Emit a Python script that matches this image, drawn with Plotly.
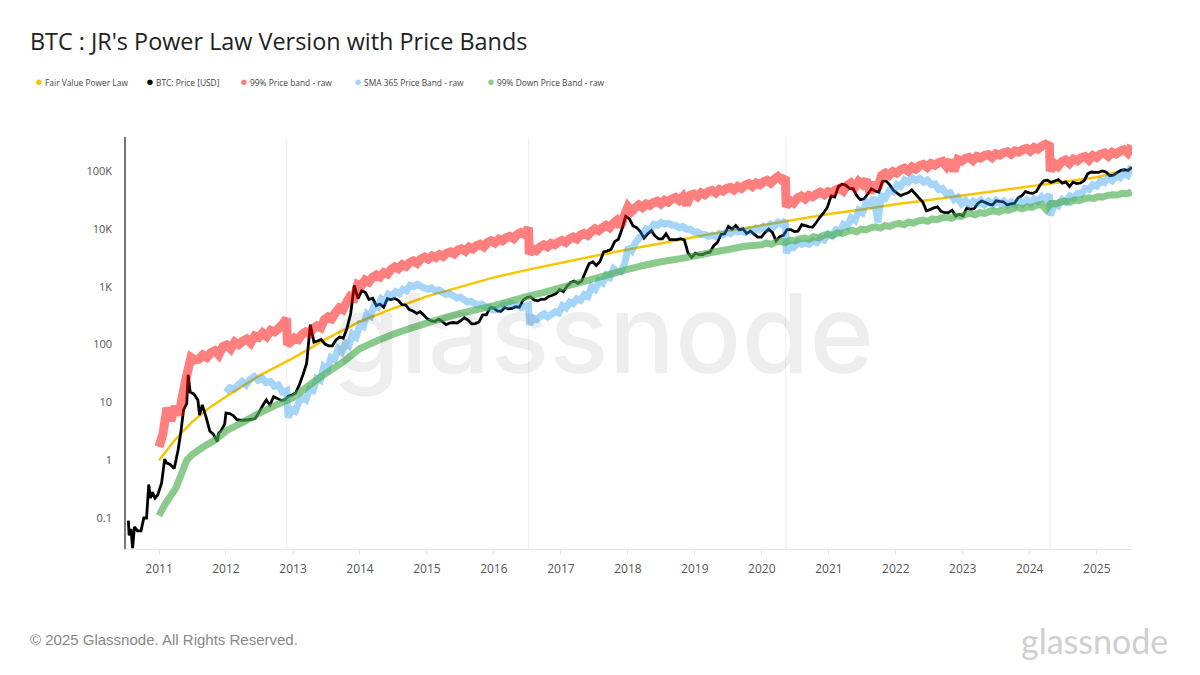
import pandas as pd
import plotly.graph_objects as go

fair_dates = ["2011-01-01","2011-04-01","2011-07-01","2011-10-01","2012-01-01","2012-07-01","2013-01-01","2013-07-01","2014-01-01","2014-07-01","2015-01-01","2015-07-01","2016-01-01","2016-07-01","2017-01-01","2017-07-01","2018-01-01","2018-07-01","2019-01-01","2019-07-01","2020-01-01","2020-07-01","2021-01-01","2021-07-01","2022-01-01","2022-07-01","2023-01-01","2023-07-01","2024-01-01","2024-07-01","2025-01-01","2025-07-01"]
fair_values = [1.0,2.3,4.6,8,12.5,29,58,125,250,420,680,1000,1450,1950,2600,3400,4400,5700,7200,9200,11500,14500,18000,21500,26500,31500,38000,45500,55000,65000,78000,108000]

price_early_dates = ["2010-07-18","2010-07-22","2010-08-01","2010-08-10","2010-08-20","2010-09-05","2010-09-25","2010-10-10","2010-10-25","2010-11-06","2010-11-15","2010-11-25","2010-12-10","2010-12-25","2011-01-15","2011-02-01","2011-02-10","2011-03-01","2011-03-25","2011-04-15","2011-05-01","2011-05-15","2011-06-01","2011-06-09","2011-06-20","2011-07-10","2011-08-01","2011-08-10","2011-08-25","2011-09-15","2011-10-05","2011-10-25","2011-11-15","2011-11-22","2011-12-05","2011-12-25"]
price_early_values = [0.09,0.05,0.065,0.03,0.07,0.06,0.06,0.1,0.1,0.38,0.22,0.28,0.22,0.25,0.4,1.05,0.9,0.85,0.72,1.5,3.2,7.5,9.5,30,15,14,11,6,9,5.5,3.2,2.8,2.1,2.9,3.2,4.2]
price_late_start = "2012-01-01"
price_late_values = [
 6.5,6.4,5.9,5,4.9,4.9,5,5.1,5.3,6.7,8.7,11,9,12.5,11.7,10.8,11,12.8,13.4,
 14.5,20,30,47,220,110,115,122,102,95,95,120,135,128,190,340,1050,620,
 850,800,600,630,470,500,440,620,600,625,580,490,480,400,380,345,370,320,
 275,255,250,275,250,220,235,240,235,257,290,265,228,230,245,325,325,430,430,
 380,375,435,412,420,450,440,580,650,670,590,570,605,610,675,710,760,890,
 820,1020,1180,1250,1140,1250,1770,2500,2700,2330,2720,4000,4160,4400,6000,6600,9900,16500,
 15000,11200,10500,9000,6900,8200,9300,7500,6700,6700,8200,6500,6500,6500,6750,6400,3800,3200,
 3800,3580,3600,3850,3950,5100,5800,8000,8200,11000,9900,11400,9600,10000,8300,9200,8100,7200,7200,
 8700,9900,8700,6200,7300,7700,9700,9700,9000,9150,11800,11400,10800,10700,13000,16000,19000,23700,
 37000,35500,54000,59000,57000,50000,49500,37500,32000,33000,40000,49000,45000,43000,66000,67500,57500,46500,
 41500,37500,40000,42000,47000,40000,34000,29000,20500,21500,23000,24000,20000,19000,19000,21000,16500,17800,
 16700,22900,21800,22300,27500,30300,28700,26800,25900,30600,29800,29400,25900,27100,27400,34500,37300,44000,42000,
 41000,44300,57000,67500,69300,63500,67000,71000,61800,65000,54000,64000,60500,62000,68000,90000,96000,95000,
 94500,100000,96000,83000,85000,93500,102500,105000,102000,116000]

upper_epoch_spans = [("2011-01-01","2012-11-27"),("2012-12-01","2016-07-08"),("2016-07-12","2020-05-09"),("2020-05-13","2024-04-18"),("2024-04-22","2025-07-10")]
upper_epoch_values = [
 [1.7,2.8,8,4.8,8.5,6,14,30,60,54,56,66,60,72,78,66,92,98,84,110,100,114,124,106,140,132,158,138,175,165,190,225,280],
 [100,112,130,122,150,165,155,190,210,195,270,300,280,360,430,400,540,680,640,1100,1050,1300,1200,1450,1600,1480,1750,1650,2000,2200,2050,2400,2250,2600,2800,2550,3000,3250,3000,3400,3200,3600,3350,3800,4000,3700,4300,4500,4100,4800,4500,5100,5400,4900,5800,6200,5700,6600,6200,7000,7400,6800,8000,8600,8000,10500],
 [3700,4500,4200,4900,5300,4900,5600,5300,5900,6300,5800,6700,7200,6700,7800,8300,7700,9000,10000,9300,10500,11500,10500,12500,14000,11000,17000,24000,20000,23000,26000,23500,27000,25500,28500,30000,27000,31000,29000,33000,35000,31000,36000,26000,38000,40000,36000,42000,39000,44000,46000,42000,48000,45000,50000,52000,47000,54000,50000,57000,60000,54000,62000,58000,65000,69000,62000,72000,80000,70000,78000],
 [24000,31000,28000,34000,37000,33000,38000,36000,40000,43000,39000,44000,42000,47000,50000,45000,56000,62000,52000,66000,58000,70000,42000,62000,50000,84000,92000,84000,98000,92000,105000,112000,100000,118000,108000,124000,130000,116000,134000,126000,140000,146000,120000,152000,100000,158000,148000,165000,172000,152000,178000,168000,185000,192000,172000,198000,188000,208000,215000,195000,222000,212000,235000,245000,220000,255000,240000,270000,290000,270000],
 [100000,135000,120000,145000,155000,135000,160000,150000,170000,178000,155000,185000,172000,195000,205000,180000,210000,198000,220000,232000,205000,275000],
]

sma_epoch_spans = [("2012-01-01","2012-11-27"),("2012-12-05","2016-07-08"),("2016-07-14","2020-05-08"),("2020-05-14","2024-04-18"),("2024-04-24","2025-07-10")]
sma_epoch_values = [
 [15,18,17,20,23,20,25,28,24,26,22,23,19,20,15,16],
 [5.5,7.5,7,10,12,11,17,16,26,24,42,38,60,56,85,75,105,95,150,135,220,205,340,310,470,440,620,570,740,690,820,760,900,850,1050,1000,1100,1020,950,900,950,850,880,800,740,760,700,640,660,600,540,560,510,480,500,450,430,400,400,430,500,470,520,480,470,430,460,480],
 [220,290,270,310,340,300,330,370,350,470,430,540,510,620,580,730,680,1000,900,1250,1150,1600,1450,2050,1850,1800,2400,4800,4200,5800,7000,8000,10000,9500,12000,11500,12800,12000,12500,11500,11500,10500,11000,9800,9800,8800,8800,8000,8000,7400,7800,7300,8300,7900,8800,8300,9300,8800,9300,8600,9500,9000,10300,9600,11000,10000,12000,11000,13000,12000,14000],
 [3800,5200,4800,5900,5400,5700,5400,6200,5800,6900,6400,8100,7500,9600,9000,12000,11000,15500,14000,21000,19000,29000,26000,35000,13000,37000,34000,46000,44000,58000,54000,70000,64000,76000,68000,74000,64000,70000,58000,60000,48000,50000,40000,42000,32000,35000,27000,31000,26000,30000,27000,31000,26000,30000,26000,31000,27000,30000,26000,29000,26000,31000,27000,32000,28000,33000,30000,36000,32000,39000],
 [17000,27000,25000,32000,29000,37000,34000,41000,40000,50000,48000,58000,55000,68000,63000,76000,68000,82000,76000,92000,84000,122000],
]

lower_dates = ["2011-01-01","2011-02-01","2011-03-01","2011-04-01","2011-05-01","2011-06-01","2011-07-01","2011-09-01","2011-11-01","2012-01-01","2012-04-01","2012-07-01","2012-10-01","2013-01-01","2013-04-01","2013-07-01","2013-10-01","2014-01-01","2014-04-01","2014-07-01","2014-10-01","2015-01-01","2015-04-01","2015-07-01","2015-10-01","2016-01-01","2016-04-01","2016-07-01","2016-10-01","2017-01-01","2017-04-01","2017-07-01","2017-10-01","2018-01-01","2018-04-01","2018-07-01","2018-10-01","2019-01-01","2019-04-01","2019-07-01","2019-10-01"]
lower_values = [0.11,0.17,0.23,0.32,0.55,1.0,1.25,1.7,2.2,3.2,4.5,6.5,9,12,20,32,50,85,115,150,190,235,285,345,400,470,560,680,800,960,1150,1380,1650,2000,2350,2700,3000,3400,3900,4400,5000]
lower_late_span = ("2020-01-01","2025-07-10")
lower_late_values = [5300,5700,5400,5900,6100,5800,6400,6200,6700,6900,6600,7300,7000,7700,8000,7700,8500,8300,9000,9400,8900,9900,9600,10400,10800,10300,11400,11000,12000,12400,11800,13000,12600,13600,14200,13500,14800,14400,15500,16000,15200,16800,16300,17800,18500,17500,19000,18500,20000,20500,19600,21500,20800,22500,23300,22200,24000,23500,25500,26500,21500,27500,27000,29000,30000,29000,31500,31000,33000,34500,33500,36000,35500,38000,39000,38500,41000,40500,43000]

def epoch_series(spans, groups):
    xs, ys = [], []
    for (start, end), vals in zip(spans, groups):
        xs += [d.strftime("%Y-%m-%d") for d in pd.date_range(start, end, periods=len(vals))]
        ys += vals
    return xs, ys

upper_x, upper_y = epoch_series(upper_epoch_spans, upper_epoch_values)
sma_x, sma_y = epoch_series(sma_epoch_spans, sma_epoch_values)
late_x, late_y = epoch_series([lower_late_span], [lower_late_values])
lower_x = lower_dates + late_x
lower_y = lower_values + late_y
price_x = price_early_dates + [d.strftime("%Y-%m-%d") for d in pd.date_range(price_late_start, periods=len(price_late_values), freq="20D")]
price_y = price_early_values + price_late_values

fig = go.Figure()
fig.add_trace(go.Scatter(x=fair_dates, y=fair_values, mode="lines", name="Fair Value Power Law",
                         line=dict(color="#f7c600", width=2.5)))
fig.add_trace(go.Scatter(x=price_x, y=price_y, mode="lines", name="BTC: Price [USD]",
                         line=dict(color="#000000", width=2.8, simplify=False)))
fig.add_trace(go.Scatter(x=upper_x, y=upper_y, mode="lines", name="99% Price band - raw",
                         line=dict(color="rgba(255,0,0,0.5)", width=9, simplify=False)))
fig.add_trace(go.Scatter(x=sma_x, y=sma_y, mode="lines", name="SMA 365 Price Band - raw",
                         line=dict(color="rgba(33,150,243,0.4)", width=7, simplify=False)))
fig.add_trace(go.Scatter(x=lower_x, y=lower_y, mode="lines", name="99% Down Price Band - raw",
                         line=dict(color="rgba(76,175,80,0.65)", width=7, simplify=False)))

halvings = ["2012-11-28", "2016-07-09", "2020-05-11", "2024-04-20"]
for d in halvings:
    fig.add_shape(type="line", x0=d, x1=d, y0=0, y1=1, xref="x", yref="y domain",
                  line=dict(color="#eeeeee", width=1), layer="below")

legend_items = [("Fair Value Power Law", "#f7c600", 33), ("BTC: Price [USD]", "#000000", 144),
                ("99% Price band - raw", "#ff7f7f", 238), ("SMA 365 Price Band - raw", "#a6d5fa", 352),
                ("99% Down Price Band - raw", "#8ccb8e", 485)]
anns = []
for label, col, px in legend_items:
    anns.append(dict(text=f"<span style='color:{col};font-size:13px'>●</span> {label}", x=px / 1200, y=1 - 81 / 675,
                     xref="paper", yref="paper", xanchor="left", yanchor="middle", showarrow=False,
                     font=dict(family="Open Sans", size=8.4, color="#444444")))
anns.append(dict(text="glassnode", x=603 / 1200, y=1 - 333 / 675, xref="paper", yref="paper",
                 xanchor="center", yanchor="middle", showarrow=False,
                 font=dict(family="Inter", size=110, weight=500, color="rgba(0,0,0,0.065)")))
anns.append(dict(text="BTC : JR's Power Law Version with Price Bands", x=28 / 1200, y=1 - 41 / 675,
                 xref="paper", yref="paper", xanchor="left", yanchor="middle", showarrow=False,
                 font=dict(family="Open Sans", size=23.4, color="#222222")))
anns.append(dict(text="© 2025 Glassnode. All Rights Reserved.", x=28 / 1200, y=1 - 639 / 675,
                 xref="paper", yref="paper", xanchor="left", yanchor="middle", showarrow=False,
                 font=dict(family="Liberation Sans", size=15, color="#888888")))
anns.append(dict(text="glassnode", x=1170 / 1200, y=1 - 640 / 675, xref="paper", yref="paper",
                 xanchor="right", yanchor="middle", showarrow=False,
                 font=dict(family="Lato", size=34, color="#cfcfcf")))

year_ticks = [f"{y}-01-01" for y in range(2011, 2026)]
year_labels = [str(y) for y in range(2011, 2026)]

fig.update_layout(
    width=1200, height=675, autosize=False, showlegend=False,
    paper_bgcolor="white", plot_bgcolor="white",
    margin=dict(l=0, r=0, t=0, b=0), annotations=anns,
    xaxis=dict(domain=[126 / 1200, 1132 / 1200], type="date", range=["2010-07-05", "2025-07-12"],
               tickmode="array", tickvals=year_ticks, ticktext=year_labels, showgrid=False,
               showline=True, linecolor="#e6e6e6", linewidth=1, ticks="outside", ticklen=5,
               tickcolor="#e6e6e6", ticklabelstandoff=4,
               tickfont=dict(family="Open Sans", size=12, color="#555555"), zeroline=False),
    yaxis=dict(domain=[1 - 549 / 675, 1 - 137 / 675], type="log", range=[-1.536, 5.588],
               tickmode="array", tickvals=[0.1, 1, 10, 100, 1000, 10000, 100000],
               ticktext=["0.1", "1", "10", "100", "1K", "10K", "100K"], showgrid=False,
               showline=True, linecolor="#777777", linewidth=1.5, ticks="outside", ticklen=10,
               tickcolor="rgba(0,0,0,0)", tickfont=dict(family="Open Sans", size=11, color="#555555"), zeroline=False),
)
fig.write_html("out.html", config=dict(displayModeBar=False),
               post_script="document.body.style.margin='0';")
